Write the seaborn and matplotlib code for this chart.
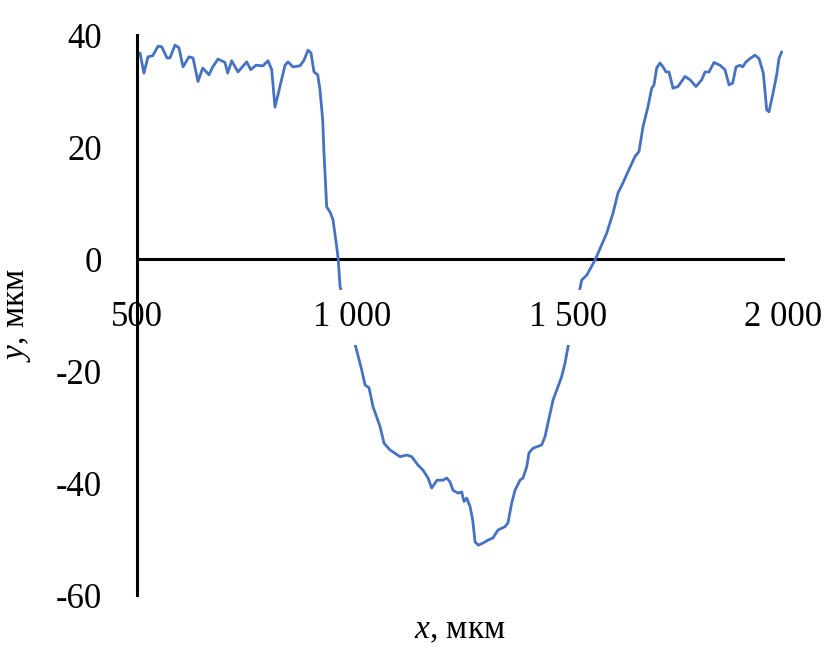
import matplotlib
matplotlib.use("Agg")
import matplotlib.pyplot as plt
import seaborn as sns
import pandas as pd

# ---- data ----
x_um = [500, 507, 516, 525.5, 536.5, 548.8, 557.4, 569.7, 576.6, 588.2, 597.5, 606.8,
        620.7, 630, 641.6, 652.6, 667.2, 675.8, 688.1, 704.3, 710.6, 719.9, 734.5,
        754.7, 764, 776.3, 792.6, 804.2, 812.8, 820.4, 832, 843.7, 850.6, 862.2,
        878.5, 887.8, 897.1, 904, 911, 919.6, 924.9, 931.2, 934.2, 940.5, 948.2,
        955.1, 963.7, 967.4, 971.4, 1008.5, 1021.8, 1029.5, 1038.8, 1048.1, 1064.3,
        1073.6, 1087.5, 1110.7, 1126.3, 1137.9, 1152.5, 1164.1, 1175.7, 1184.3,
        1196.6, 1210.5, 1219.1, 1226.8, 1233.8, 1245.4, 1254, 1259.3, 1265.6,
        1273.3, 1279.5, 1284.9, 1292.5, 1304.1, 1315, 1326.6, 1338.2, 1354.5,
        1361.5, 1370, 1377.7, 1389.3, 1396.3, 1404.9, 1410.2, 1419.5, 1439.7,
        1447.4, 1466, 1486.1, 1493.8, 1500.8, 1528.6, 1532.6, 1544.2, 1563.5,
        1590.6, 1605.3, 1616.9, 1628.5, 1640.1, 1656.4, 1665.6, 1674.9, 1686.5,
        1695.1, 1700.5, 1706.7, 1714.4, 1721.4, 1728.3, 1735.3, 1744.6, 1756.2,
        1772.5, 1784.1, 1798, 1811.2, 1818.9, 1828.2, 1839.8, 1853.7, 1865.3,
        1874.6, 1883.2, 1890.9, 1900.2, 1906.4, 1914.1, 1923.4, 1935, 1944.3,
        1954.3, 1962.2, 1967.5, 1976.8, 1985.4, 1990.7, 1997]
y_um = [36.1, 36.8, 33.2, 36.1, 36.3, 38.0, 37.9, 35.9, 35.9, 38.2, 37.7, 34.3,
        36.1, 35.9, 31.7, 34.1, 32.9, 34.3, 35.7, 35.1, 33.2, 35.4, 33.4,
        35.2, 33.8, 34.6, 34.5, 35.4, 33.8, 27.1, 30.8, 34.6, 35.2, 34.3,
        34.5, 35.5, 37.3, 36.8, 33.4, 32.9, 30.2, 24.8, 18.9, 9.3, 8.4,
        7.0, 2.2, -0.2, -4.9, -15.9, -19.8, -22.5, -23.0, -26.4, -29.9,
        -32.9, -34.1, -35.3, -35.0, -35.3, -36.8, -37.7, -39.1, -40.9,
        -39.5, -39.5, -39.1, -39.8, -41.3, -41.8, -41.6, -43.3, -42.7,
        -44.2, -46.6, -50.5, -51.1, -50.7, -50.2, -49.8, -48.4, -47.8,
        -47.1, -43.6, -41.3, -39.5, -39.1, -37.1, -34.6, -33.8, -33.2,
        -31.7, -25.2, -21.0, -18.6, -15.7, -5.2, -3.75, -2.9, -0.2,
        4.6, 8.2, 11.8, 13.6, 15.6, 18.3, 19.2, 23.6, 27.2,
        30.5, 31.1, 34.1, 35.0, 34.3, 33.4, 33.4, 30.5, 30.8,
        32.6, 32.0, 30.8, 32.0, 33.4, 33.4, 35.1, 34.6, 33.8,
        31.1, 31.4, 34.3, 34.6, 34.3, 35.2, 35.8, 36.4, 35.8,
        33.2, 26.6, 26.3, 29.6, 32.9, 35.8, 37.0]

x_ticks = [500, 1000, 1500, 2000]
x_tick_labels = ["500", "1 000", "1 500", "2 000"]
y_ticks = [-60, -40, -20, 0, 20, 40]
y_tick_labels = ["-60", "-40", "-20", "0", "20", "40"]
x_label = r"$x$, мкм"
y_label = r"$y$, мкм"

df = pd.DataFrame({"x": x_um, "y": y_um})

sns.set_theme(style="white")
plt.rcParams["font.family"] = ["Liberation Serif", "DejaVu Serif"]
plt.rcParams["mathtext.fontset"] = "custom"
plt.rcParams["mathtext.rm"] = "Liberation Serif"
plt.rcParams["mathtext.it"] = "Liberation Serif:italic"

fig = plt.figure(figsize=(8.27, 6.51), dpi=100)
ax = fig.add_axes([137 / 827, 1 - 595 / 651, 646 / 827, 560 / 651])

sns.lineplot(data=df, x="x", y="y", ax=ax, color="#4472C4", linewidth=2.0,
             sort=False, zorder=3)

ax.set_xlim(500, 2000)
ax.set_ylim(-60, 40)

ax.spines["top"].set_visible(False)
ax.spines["right"].set_visible(False)
ax.spines["bottom"].set_position(("data", 0))
for side in ("left", "bottom"):
    ax.spines[side].set_color("black")
    ax.spines[side].set_linewidth(2.2)
ax.spines["left"].set_zorder(5)
ax.spines["bottom"].set_zorder(2.5)

ax.set_xticks(x_ticks)
ax.set_xticklabels(x_tick_labels)
ax.set_yticks(y_ticks)
ax.set_yticklabels(y_tick_labels)
ax.tick_params(axis="x", length=0, pad=30, labelsize=25, colors="black")
ax.tick_params(axis="y", length=0, pad=25, labelsize=25, colors="black")
ax.xaxis.set_zorder(4)
for t in ax.xaxis.get_major_ticks():
    t.label1.set_bbox(dict(facecolor="white", edgecolor="none", pad=8))

ax.set_xlabel(x_label, fontsize=24, color="black")
ax.set_ylabel(y_label, fontsize=24, color="black")
ax.xaxis.set_label_coords(0.5, -0.036)
ax.yaxis.set_label_coords(-0.161, 0.5)
ax.grid(False)

fig.savefig("out.png", dpi=100)
